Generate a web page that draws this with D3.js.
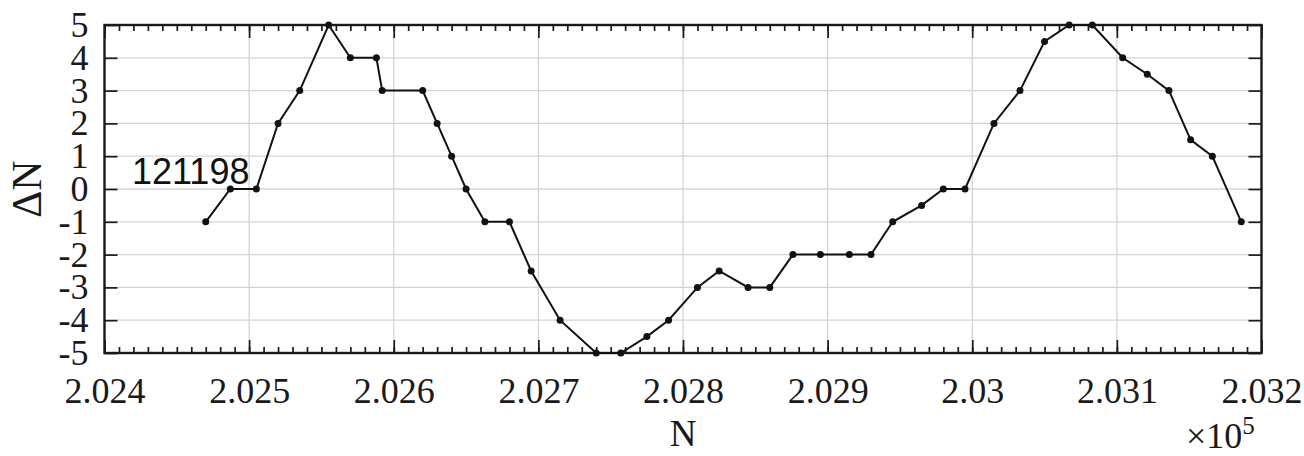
<!DOCTYPE html>
<html>
<head>
<meta charset="utf-8">
<script src="https://cdn.jsdelivr.net/npm/d3@7"></script>
<style>
  body { margin: 0; background: #fff; }
</style>
</head>
<body>
<div id="chart"></div>
<script>
// values
var nValues = [202470, 202487, 202505, 202520, 202535, 202555, 202570, 202588, 202592, 202620,
               202630, 202640, 202650, 202663, 202680, 202695, 202715, 202740, 202757, 202775,
               202790, 202810, 202825, 202845, 202860, 202876, 202895, 202915, 202930, 202945,
               202965, 202980, 202995, 203015, 203033, 203050, 203067, 203083, 203104, 203121,
               203136, 203151, 203166, 203186];
var dnValues = [-1, 0, 0, 2, 3, 5, 4, 4, 3, 3,
                2, 1, 0, -1, -1, -2.5, -4, -5, -5, -4.5,
                -4, -3, -2.5, -3, -3, -2, -2, -2, -2, -1,
                -0.5, 0, 0, 2, 3, 4.5, 5, 5, 4, 3.5,
                3, 1.5, 1, -1];
var xTicks = [202400, 202500, 202600, 202700, 202800, 202900, 203000, 203100, 203200];
var yTicks = [-5, -4, -3, -2, -1, 0, 1, 2, 3, 4, 5];
var annotation = "121198";

var W = 1304, H = 456;
var margin = {top: 25, right: 42.5, bottom: 103, left: 104.5};
var width = W - margin.left - margin.right,
    height = H - margin.top - margin.bottom;

var svg = d3.select("#chart").append("svg")
    .attr("width", W)
    .attr("height", H);

var g = svg.append("g")
    .attr("transform", "translate(" + margin.left + "," + margin.top + ")");

var x = d3.scaleLinear().domain([202400, 203200]).range([0, width]);
var y = d3.scaleLinear().domain([-5, 5]).range([height, 0]);

var serif = "Liberation Serif";

// grid
g.append("g").selectAll("line")
  .data(xTicks.slice(1, -1))
  .enter().append("line")
    .attr("x1", function(d) { return x(d); })
    .attr("x2", function(d) { return x(d); })
    .attr("y1", 0).attr("y2", height)
    .attr("stroke", "#d4d4d4").attr("stroke-width", 1.3);
g.append("g").selectAll("line")
  .data(yTicks.slice(1, -1))
  .enter().append("line")
    .attr("y1", function(d) { return y(d); })
    .attr("y2", function(d) { return y(d); })
    .attr("x1", 0).attr("x2", width)
    .attr("stroke", "#d4d4d4").attr("stroke-width", 1.3);

// axes, ticks pointing inside
var minor = d3.range(202400, 203201, 10);
var xBottom = d3.axisBottom(x).tickValues(xTicks).tickSize(-13)
    .tickFormat(function(d) { return String(+(d / 1e5).toFixed(3)); });
var xBottomMinor = d3.axisBottom(x).tickValues(minor).tickSize(-6).tickFormat("");
var xTop = d3.axisTop(x).tickValues(xTicks).tickSize(-13).tickFormat("");
var xTopMinor = d3.axisTop(x).tickValues(minor).tickSize(-6).tickFormat("");
var yLeft = d3.axisLeft(y).tickValues(yTicks).tickSize(-13).tickFormat(function(d) { return String(d); });
var yRight = d3.axisRight(y).tickValues(yTicks).tickSize(-13).tickFormat("");

function style(sel) {
  sel.attr("font-family", serif).attr("font-size", 36);
  sel.select(".domain").remove();
  sel.selectAll(".tick line").attr("stroke", "#1a1a1a").attr("stroke-width", 1.7);
  sel.selectAll("text").attr("fill", "#1a1a1a");
}

g.append("g").attr("transform", "translate(0," + height + ")").call(xBottomMinor).call(style);
g.append("g").attr("transform", "translate(0," + height + ")").call(xBottom).call(style)
  .selectAll("text").attr("y", 24).attr("dy", "0.71em");
g.append("g").call(xTopMinor).call(style);
g.append("g").call(xTop).call(style);
g.append("g").call(yLeft).call(style)
  .selectAll("text").attr("x", -16);
g.append("g").attr("transform", "translate(" + width + ",0)").call(yRight).call(style);

// box
g.append("rect")
  .attr("width", width).attr("height", height)
  .attr("fill", "none").attr("stroke", "#1a1a1a").attr("stroke-width", 2.4);

// data
var pts = nValues.map(function(n, i) { return [n, dnValues[i]]; });
g.append("path")
  .datum(pts)
  .attr("fill", "none")
  .attr("stroke", "#111")
  .attr("stroke-width", 2)
  .attr("d", d3.line().x(function(d) { return x(d[0]); }).y(function(d) { return y(d[1]); }));
g.append("g").selectAll("circle")
  .data(pts)
  .enter().append("circle")
    .attr("cx", function(d) { return x(d[0]); })
    .attr("cy", function(d) { return y(d[1]); })
    .attr("r", 3.5)
    .attr("fill", "#111");

// annotation
g.append("text")
  .attr("x", x(202419))
  .attr("y", y(0.15))
  .attr("fill", "#111")
  .attr("font-family", "Liberation Sans")
  .attr("font-size", 36)
  .text(annotation);

// axis labels
svg.append("text")
  .attr("x", margin.left + x(202800))
  .attr("y", 446)
  .attr("text-anchor", "middle")
  .attr("fill", "#1a1a1a")
  .attr("font-family", serif)
  .attr("font-size", 37)
  .text("N");

svg.append("text")
  .attr("transform", "translate(41," + (margin.top + height / 2) + ") rotate(-90)")
  .attr("text-anchor", "middle")
  .attr("fill", "#1a1a1a")
  .attr("font-family", serif)
  .attr("font-size", 42)
  .text("\u0394N");

var exp = svg.append("text")
  .attr("x", 1186)
  .attr("y", 448)
  .attr("fill", "#1a1a1a")
  .attr("font-family", serif)
  .attr("font-size", 36);
exp.append("tspan").text("\u00d710");
exp.append("tspan").attr("dy", -14).attr("font-size", 25).text("5");
</script>
</body>
</html>
